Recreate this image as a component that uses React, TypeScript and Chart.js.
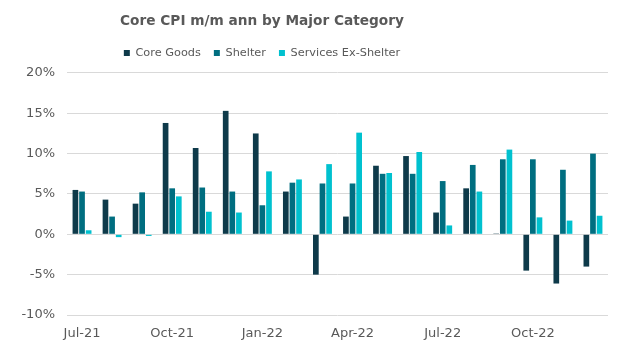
import React, { useEffect, useRef } from "react";
import { Chart, registerables } from "chart.js";

Chart.register(...registerables);

const months = [
  "Jul-21", "Aug-21", "Sep-21", "Oct-21", "Nov-21", "Dec-21",
  "Jan-22", "Feb-22", "Mar-22", "Apr-22", "May-22", "Jun-22",
  "Jul-22", "Aug-22", "Sep-22", "Oct-22", "Nov-22", "Dec-22",
];

const coreGoods = [5.5, 4.3, 3.8, 13.8, 10.7, 15.3, 12.5, 5.3, -5.0, 2.2, 8.5, 9.7, 2.7, 5.7, 0.1, -4.5, -6.1, -4.0];
const shelter = [5.3, 2.2, 5.2, 5.7, 5.8, 5.3, 3.6, 6.4, 6.3, 6.3, 7.5, 7.5, 6.6, 8.6, 9.3, 9.3, 8.0, 10.0];
const servicesExShelter = [0.5, -0.35, -0.2, 4.7, 2.8, 2.7, 7.8, 6.8, 8.7, 12.6, 7.6, 10.2, 1.1, 5.3, 10.5, 2.1, 1.7, 2.3];

const yTicks = [-10, -5, 0, 5, 10, 15, 20];

const FONT = "'DejaVu Sans', Verdana, sans-serif";
const GREY = "#595959";
const HEADER_CENTER_X = 262;

const headerShift = {
  id: "headerShift",
  afterLayout(chart: any) {
    [chart.titleBlock, chart.legend].forEach((box: any) => {
      if (!box) return;
      box.right = 2 * HEADER_CENTER_X - box.left;
      box.width = box.right - box.left;
    });
  },
};

export default function App() {
  const ref = useRef<HTMLCanvasElement>(null);

  useEffect(() => {
    document.body.style.margin = "0";
    const canvas = ref.current;
    if (!canvas) return;
    const chart = new Chart(canvas, {
      type: "bar",
      data: {
        labels: months,
        datasets: [
          { label: "Core Goods", data: coreGoods, backgroundColor: "#0e3a4a" },
          { label: "Shelter", data: shelter, backgroundColor: "#006e80" },
          { label: "Services Ex-Shelter", data: servicesExShelter, backgroundColor: "#00c1cf" },
        ],
      },
      plugins: [headerShift],
      options: {
        animation: false,
        responsive: false,
        maintainAspectRatio: false,
        layout: { padding: { left: 0, right: 16, top: 0, bottom: 0 } },
        datasets: {
          bar: { categoryPercentage: 0.66, barPercentage: 0.86 },
        },
        plugins: {
          title: {
            display: true,
            text: "Core CPI m/m ann by Major Category",
            color: GREY,
            font: { family: FONT, size: 13.7, weight: "bold" },
            padding: { top: 13, bottom: 5 },
          },
          subtitle: {
            display: true,
            text: "",
            weight: 500,
            font: { family: FONT, size: 1 },
            padding: { top: 0, bottom: 3 },
          },
          legend: {
            display: true,
            position: "top",
            labels: {
              color: GREY,
              font: { family: FONT, size: 11.3 },
              boxWidth: 6,
              boxHeight: 6,
              padding: 13,
            },
          },
          tooltip: { enabled: false },
        },
        scales: {
          x: {
            grid: { display: false, drawTicks: false },
            border: { display: false },
            ticks: {
              color: GREY,
              font: { family: FONT, size: 13 },
              autoSkip: false,
              maxRotation: 0,
              minRotation: 0,
              padding: 11,
              callback: (_v: any, i: number) => (i % 3 === 0 ? months[i] : ""),
            },
            afterFit: (s: any) => { s.height = 44; },
          },
          y: {
            min: -10,
            max: 20,
            afterBuildTicks: (s: any) => { s.ticks = yTicks.map((v) => ({ value: v })); },
            grid: { color: "#d9d9d9", lineWidth: 1, drawTicks: false },
            border: { display: false },
            ticks: {
              color: GREY,
              font: { family: FONT, size: 13 },
              padding: 12,
              callback: (v: any) => `${v}%`,
            },
            afterFit: (s: any) => { s.width = 67; },
          },
        },
      },
    });
    return () => chart.destroy();
  }, []);

  return <canvas ref={ref} width={624} height={359} style={{ display: "block" }} />;
}
